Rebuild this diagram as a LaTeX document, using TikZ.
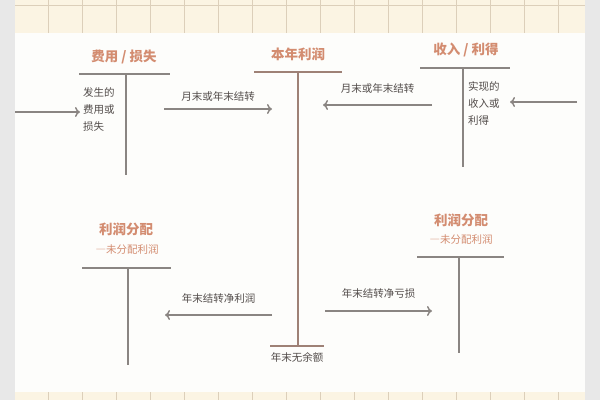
\documentclass[tikz,border=0pt]{standalone}
\usepackage{fontspec}
\setmainfont{Noto Sans CJK SC}
\usetikzlibrary{arrows.meta}

\definecolor{titlecol}{HTML}{D38C70}
\definecolor{linecol}{HTML}{8A8582}
\definecolor{profitln}{HTML}{9E8176}
\definecolor{textcol}{HTML}{524C4A}
\definecolor{gridbg}{HTML}{FBF4E3}
\definecolor{gridln}{HTML}{DCCFBA}
\definecolor{sidecol}{HTML}{E8E8E8}
\definecolor{pagecol}{HTML}{FDFDFB}

\tikzset{
  acctitle/.style={text=titlecol, font=\fontsize{13.5}{15}\selectfont\bfseries, inner sep=0pt},
  accsub/.style={text=titlecol, font=\fontsize{10.5}{12}\selectfont, inner sep=0pt},
  acctext/.style={text=textcol, font=\fontsize{10.5}{17}\selectfont, align=left, inner sep=0pt, anchor=north west},
  arrlabel/.style={text=textcol, font=\fontsize{10.5}{12}\selectfont, inner sep=0pt},
  tline/.style={draw=linecol, line width=1.2pt},
  flow/.style={draw=linecol, line width=1.5pt, -{To[length=5pt,width=10pt]}}
}

\begin{document}
\begin{tikzpicture}[x=1pt, y=-1pt]
  \useasboundingbox (0,0) rectangle (600,400);

  %% page and grid
  \fill[sidecol] (0,0) rectangle (600,400);
  \fill[pagecol] (15,0) rectangle (585,400);
  \fill[gridbg] (15,0) rectangle (585,33);
  \fill[gridbg] (15,392) rectangle (585,400);
  \draw[gridln, line width=.8pt] (15,5) to (585,5);
  \foreach \gx in {48,82,...,558} {
    \draw[gridln, line width=.8pt] (\gx,0) to (\gx,33);
    \draw[gridln, line width=.8pt] (\gx,392) to (\gx,400);
  }

  %% T1 expenses
  \node[acctitle] (expense) at (124,57) {费用 / 损失};
  \draw[tline] (79,74) to (170,74);
  \draw[tline] (126,74) to (126,175);
  \node[acctext] (expensetxt) at (83,87) {发生的\\费用或\\损失};

  %% T2 profit of the year
  \node[acctitle] (profit) at (298,54) {本年利润};
  \draw[tline, draw=profitln] (254,72) to (342,72);
  \draw[tline, draw=profitln] (298,72) to (298,346);
  \draw[tline, draw=profitln] (270,346) to (324,346);
  \node[arrlabel] (nobalance) at (297,357) {年末无余额};

  %% T3 income
  \node[acctitle] (income) at (466,50) {收入 / 利得};
  \draw[tline] (420,68) to (510,68);
  \draw[tline] (463,68) to (463,167);
  \node[acctext] (incometxt) at (468,81) {实现的\\收入或\\利得};

  %% T4 distribution left
  \node[acctitle] (distleft) at (126,229) {利润分配};
  \node[accsub] (distleftsub) at (127,250) {―未分配利润};
  \draw[tline] (82,268) to (171,268);
  \draw[tline] (128,268) to (128,365);

  %% T5 distribution right
  \node[acctitle] (distright) at (461,220) {利润分配};
  \node[accsub] (distrightsub) at (461,240) {―未分配利润};
  \draw[tline] (417,257) to (504,257);
  \draw[tline] (459,257) to (459,353);

  %% arrows
  \coordinate (expin) at (15,112);
  \coordinate (expend) at (80,112);
  \draw[flow] (expin) to (expend);

  \coordinate (incin) at (577,102);
  \coordinate (incend) at (510,102);
  \draw[flow] (incin) to (incend);

  \coordinate (m1a) at (164,109);
  \coordinate (m1b) at (272,109);
  \draw[flow] (m1a) to node[arrlabel, above=7pt] (m1lab) {月末或年末结转} (m1b);

  \coordinate (m2a) at (432,105);
  \coordinate (m2b) at (323,105);
  \draw[flow] (m2a) to node[arrlabel, above=11pt] (m2lab) {月末或年末结转} (m2b);

  \coordinate (y1a) at (272,315);
  \coordinate (y1b) at (165,315);
  \draw[flow] (y1a) to node[arrlabel, above=11pt] (y1lab) {年末结转净利润} (y1b);

  \coordinate (y2a) at (325,311);
  \coordinate (y2b) at (432,311);
  \draw[flow] (y2a) to node[arrlabel, above=12pt] (y2lab) {年末结转净亏损} (y2b);

\end{tikzpicture}
\end{document}
